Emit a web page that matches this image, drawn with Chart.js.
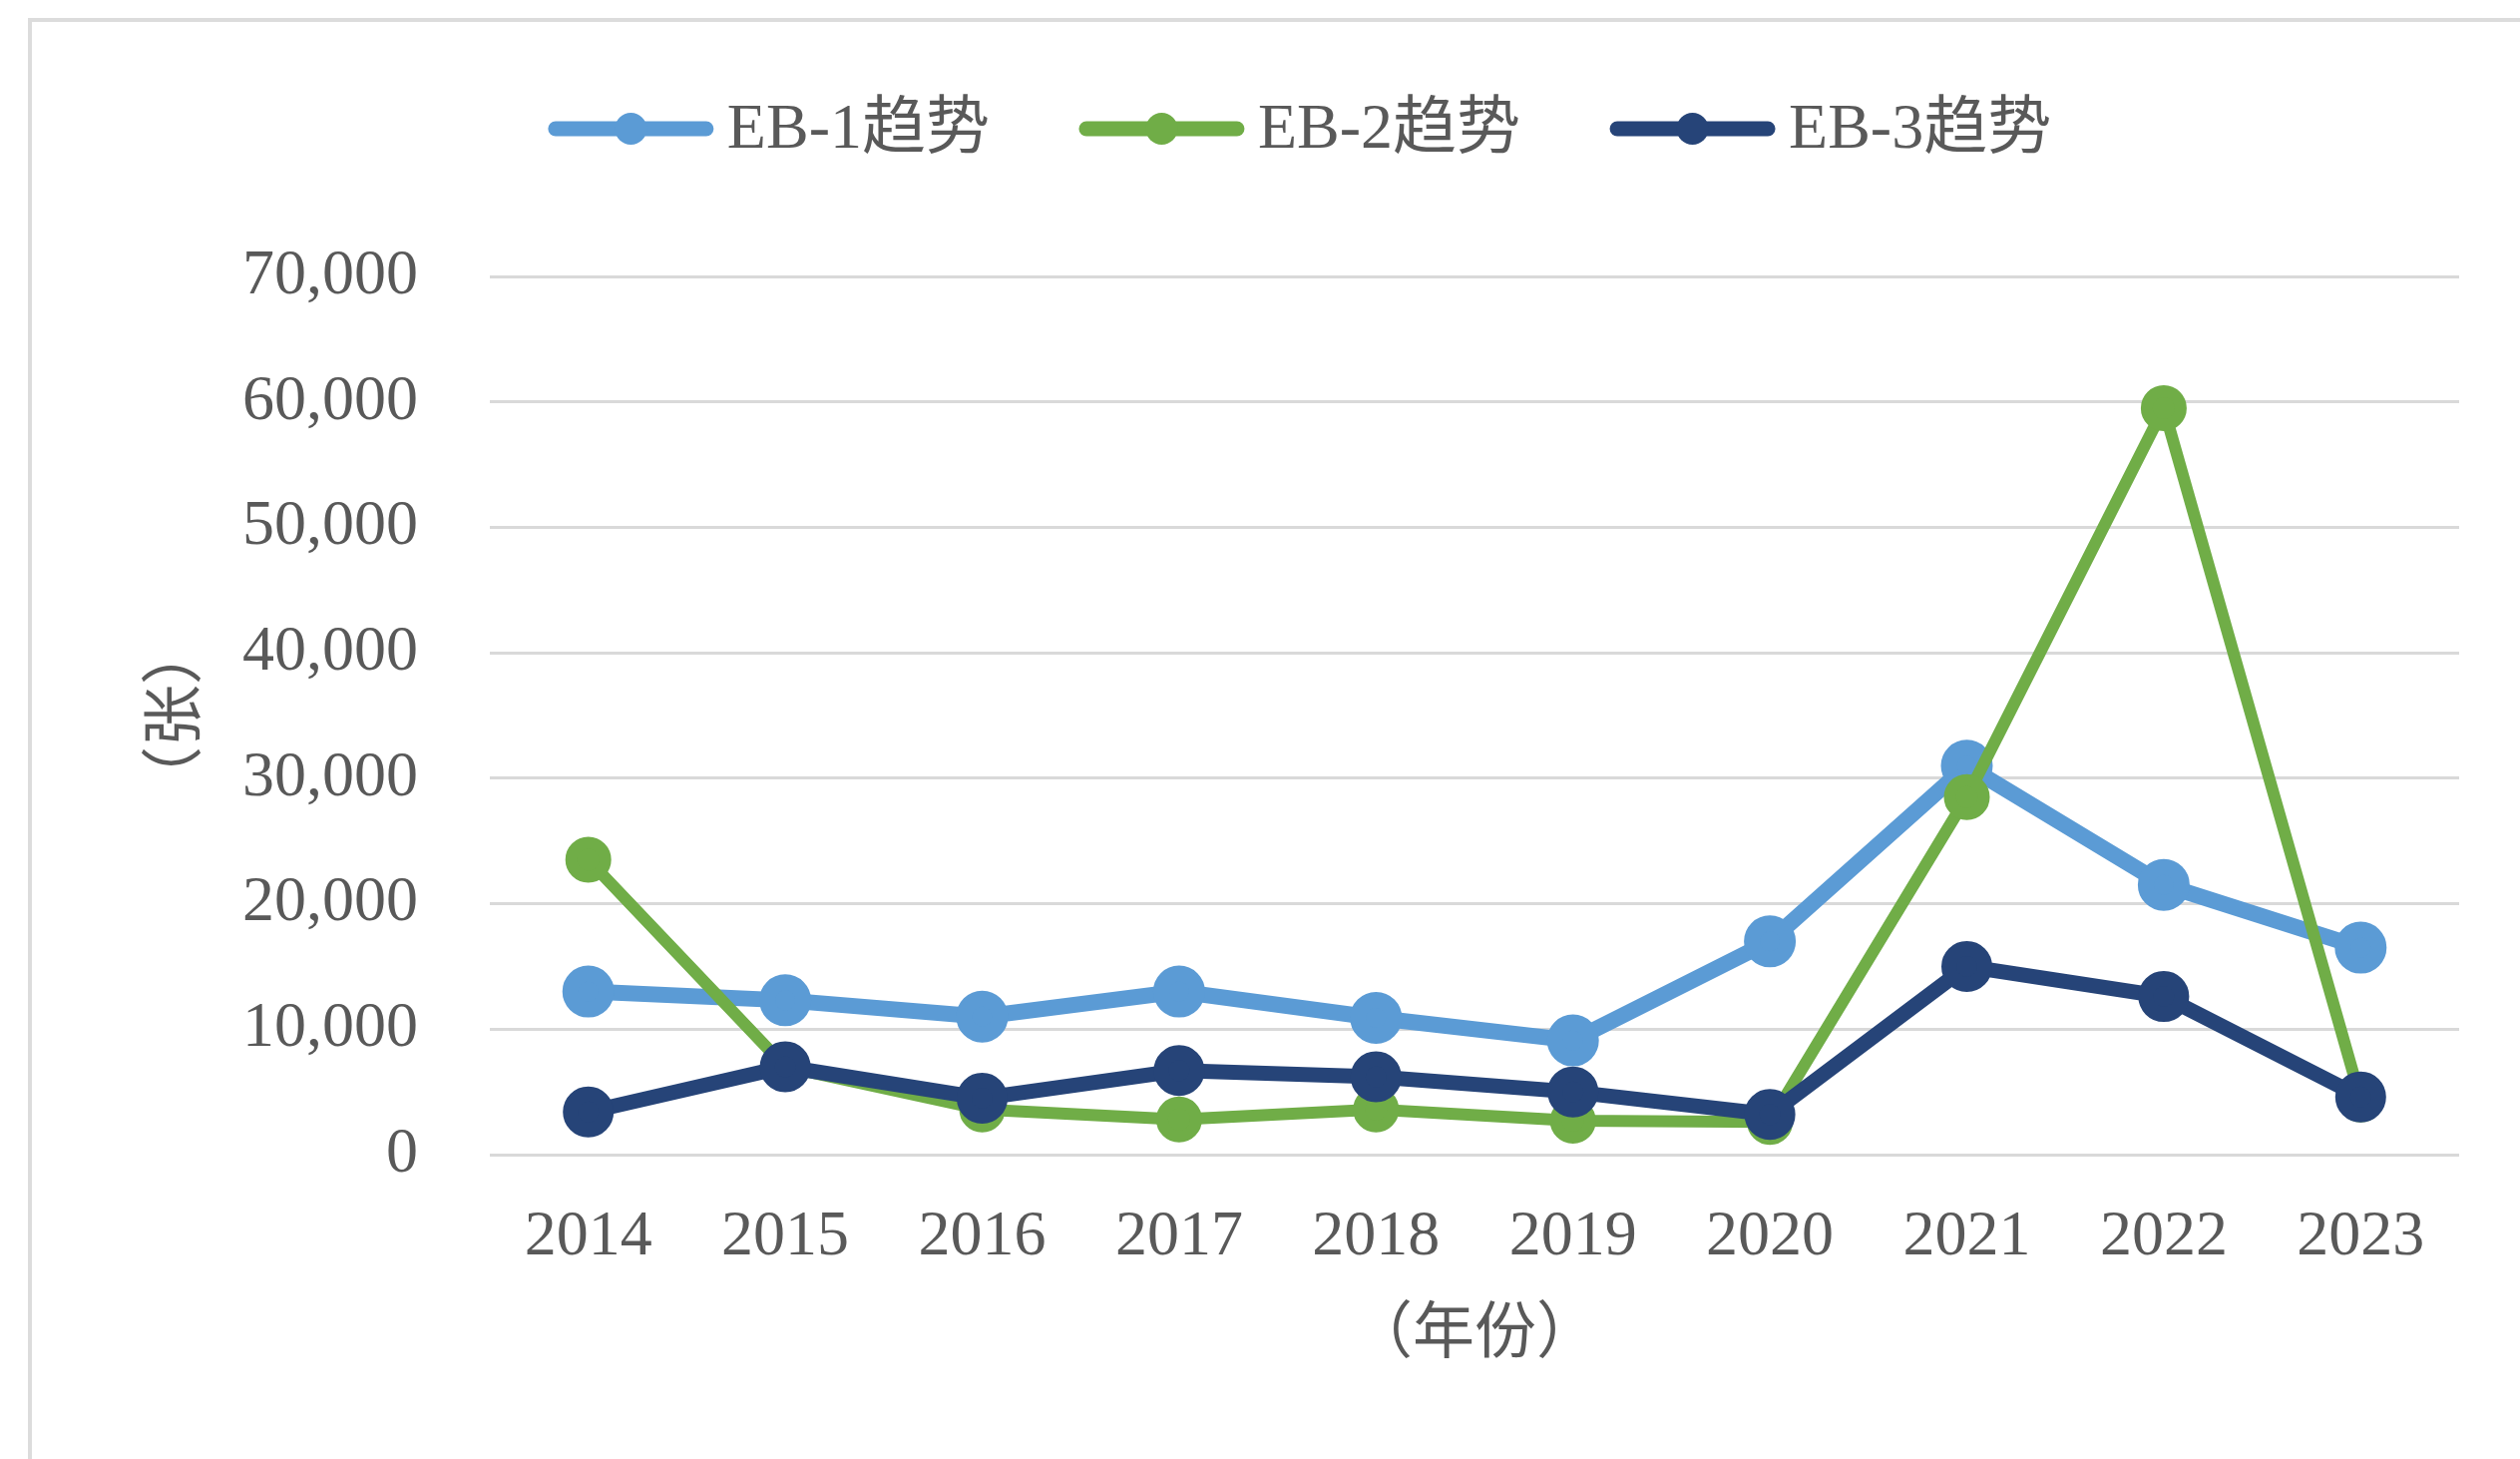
<!DOCTYPE html>
<html>
<head>
<meta charset="utf-8">
<script src="https://cdn.jsdelivr.net/npm/chart.js@4.4.1/dist/chart.umd.min.js"></script>
<style>
  html, body { margin: 0; padding: 0; background: #fff; overflow: hidden; }
  #frame { position: absolute; left: 28px; top: 18px; width: 2600px; height: 1600px; border: 4px solid #dcdcdc; }
  #c { position: absolute; left: 0; top: 0; }
</style>
</head>
<body>
<div id="frame"></div>
<canvas id="c" width="2526" height="1462"></canvas>
<script>
const annees = ["2014", "2015", "2016", "2017", "2018", "2019", "2020", "2021", "2022", "2023"]
const eb1 = [13000, 12300, 11000, 13000, 10900, 9100, 17000, 31000, 21500, 16500]
const eb2 = [23500, 7000, 3600, 2800, 3600, 2700, 2600, 28500, 59500, 4400]
const eb3 = [3400, 7000, 4500, 6700, 6200, 5000, 3200, 15000, 12600, 4600]
const nomsSeries = ["EB-1趋势", "EB-2趋势", "EB-3趋势"]
const couleurs = ["#5b9bd5", "#70ad47", "#264478"]

const policeTexte = '"Liberation Serif", "Noto Sans CJK SC", serif'
const gris = "#595959"

// legende dessinee a la main : trait + rond comme dans excel
const legendePlugin = {
  id: 'legendeLigne',
  afterDraw(chart) {
    const ctx = chart.ctx
    ctx.save()
    ctx.font = '64px ' + policeTexte
    ctx.textBaseline = 'middle'
    const longTrait = 165
    const ecart = 14
    const ecartItems = 90
    const items = chart.data.datasets.map(ds => ({
      ds: ds,
      w: longTrait + ecart + ctx.measureText(ds.label).width
    }))
    let total = items.reduce((s, it) => s + it.w, 0) + ecartItems * (items.length - 1)
    let x = 1303 - total / 2
    const y = 129
    items.forEach(it => {
      ctx.strokeStyle = it.ds.borderColor
      ctx.lineWidth = 15
      ctx.lineCap = 'round'
      ctx.beginPath()
      ctx.moveTo(x + 7, y)
      ctx.lineTo(x + longTrait - 7, y)
      ctx.stroke()
      ctx.fillStyle = it.ds.borderColor
      ctx.beginPath()
      ctx.arc(x + longTrait / 2, y, 16, 0, Math.PI * 2)
      ctx.fill()
      ctx.fillStyle = gris
      ctx.textAlign = 'left'
      ctx.fillText(it.ds.label, x + longTrait + ecart, y + 2)
      x += it.w + ecartItems
    })
    ctx.restore()
  }
}

const data = {
  labels: annees,
  datasets: [
    {
      label: nomsSeries[0],
      data: eb1,
      borderColor: couleurs[0],
      backgroundColor: couleurs[0],
      borderWidth: 16,
      pointRadius: 18,
      pointHoverRadius: 18,
      order: 3
    },
    {
      label: nomsSeries[1],
      data: eb2,
      borderColor: couleurs[1],
      backgroundColor: couleurs[1],
      borderWidth: 12,
      pointRadius: 17,
      pointHoverRadius: 17,
      order: 2
    },
    {
      label: nomsSeries[2],
      data: eb3,
      borderColor: couleurs[2],
      backgroundColor: couleurs[2],
      borderWidth: 15,
      pointRadius: 18,
      pointHoverRadius: 18,
      order: 1
    }
  ]
}

const config = {
  type: 'line',
  data: data,
  plugins: [legendePlugin],
  options: {
    responsive: false,
    animation: false,
    layout: {
      padding: { top: 277, left: 0, right: 61, bottom: 0 }
    },
    plugins: {
      legend: { display: false },
      title: { display: false },
      tooltip: { enabled: false }
    },
    scales: {
      x: {
        offset: true,
        grid: { display: false, drawTicks: false },
        border: { display: false },
        ticks: {
          color: gris,
          padding: 45,
          font: { family: policeTexte, size: 64 }
        },
        title: {
          display: true,
          text: '（年份）',
          color: gris,
          padding: { top: 0, bottom: 92 },
          font: { family: '"Noto Sans CJK SC", sans-serif', size: 62 }
        },
        afterFit: (scale) => { scale.height = 305 }
      },
      y: {
        min: 0,
        max: 70000,
        grid: { color: '#d9d9d9', lineWidth: 3, drawTicks: false },
        border: { display: false },
        ticks: {
          stepSize: 10000,
          color: gris,
          padding: 72,
          font: { family: policeTexte, size: 64 },
          callback: (v) => v.toLocaleString('en-US')
        },
        title: {
          display: true,
          text: '（张）',
          color: gris,
          padding: { top: 135, bottom: 0 },
          font: { family: '"Noto Sans CJK SC", sans-serif', size: 62 }
        },
        afterFit: (scale) => { scale.width = 491 }
      }
    }
  }
}

const monGraphique = new Chart(document.getElementById('c'), config)
</script>
</body>
</html>
